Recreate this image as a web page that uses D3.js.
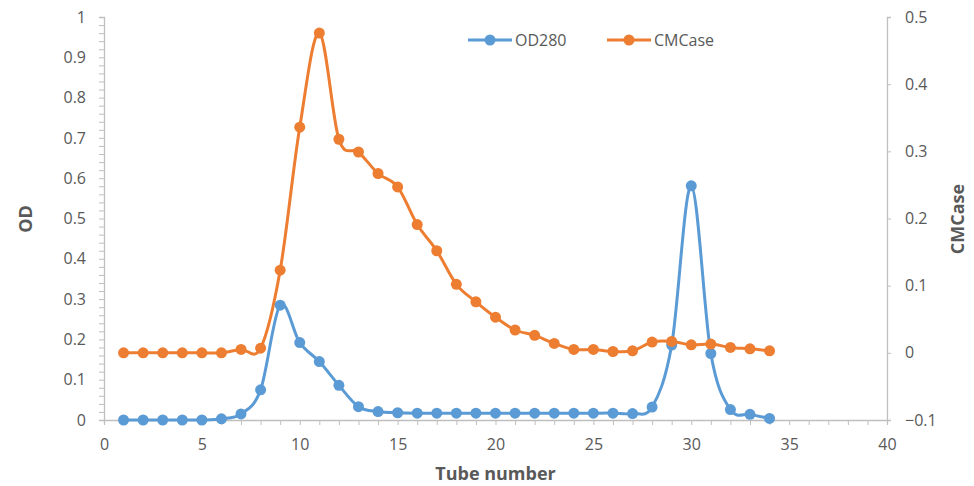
<!DOCTYPE html>
<html lang="en">
<head>
<meta charset="utf-8">
<script src="https://cdn.jsdelivr.net/npm/d3@7"></script>
<style>
  body { margin: 0; background: #fff; }
  svg text { font-family: "Open Sans", "Liberation Sans", sans-serif; fill: #595959; }
</style>
</head>
<body>
<svg id="chart"></svg>
<script>
var tubes = [1,2,3,4,5,6,7,8,9,10,11,12,13,14,15,16,17,18,19,20,21,22,23,24,25,26,27,28,29,30,31,32,33,34];
var od280 = [0,0,0,0,0,0.003,0.015,0.075,0.285,0.192,0.145,0.086,0.033,0.021,0.018,0.017,0.017,0.017,0.017,0.017,0.017,0.017,0.017,0.017,0.017,0.017,0.016,0.032,0.186,0.581,0.165,0.026,0.014,0.004];
var cmcase = [0,0,0,0,0,0,0.005,0.007,0.123,0.336,0.476,0.318,0.299,0.267,0.247,0.191,0.152,0.102,0.076,0.053,0.034,0.026,0.014,0.005,0.005,0.002,0.003,0.016,0.017,0.012,0.013,0.008,0.006,0.003];
var xTicks = [0,5,10,15,20,25,30,35,40];
var leftTicks = [0,0.1,0.2,0.3,0.4,0.5,0.6,0.7,0.8,0.9,1];
var rightTicks = [-0.1,0,0.1,0.2,0.3,0.4,0.5];

var w = 974, h = 486;
var padLeft = 104, padRight = 887, padTop = 17, padBottom = 420;
var blue = "#5B9BD5", orange = "#ED7D31", axisColor = "#BFBFBF";

var svg = d3.select("#chart").attr("width", w).attr("height", h);

var x = d3.scaleLinear().domain([0, 40]).range([padLeft, padRight]);
var yL = d3.scaleLinear().domain([0, 1]).range([padBottom, padTop]);
var yR = d3.scaleLinear().domain([-0.1, 0.5]).range([padBottom, padTop]);

// bottom axis
var xAxis = svg.append("g")
  .attr("transform", "translate(0," + padBottom + ")")
  .call(d3.axisBottom(x).tickValues(d3.range(0, 41, 1)).tickSize(5).tickFormat(""));
var xLab = svg.append("g")
  .attr("transform", "translate(0," + padBottom + ")")
  .call(d3.axisBottom(x).tickValues(xTicks).tickSize(0).tickPadding(19).tickFormat(d3.format("d")));

// left axis
var yAxisL = svg.append("g")
  .attr("transform", "translate(" + padLeft + ",0)")
  .call(d3.axisLeft(yL).tickValues(d3.range(0, 51, 1).map(function(i){ return i / 50; })).tickSize(5).tickFormat(""));
var yLabL = svg.append("g")
  .attr("transform", "translate(" + padLeft + ",0)")
  .call(d3.axisLeft(yL).tickValues(leftTicks).tickSize(0).tickPadding(18).tickFormat(function(d){ return d === 0 || d === 1 ? d : d3.format(".1f")(d); }));

// right axis
var yAxisR = svg.append("g")
  .attr("transform", "translate(" + padRight + ",0)")
  .call(d3.axisRight(yR).tickValues(rightTicks).tickSize(4).tickPadding(14).tickFormat(function(d){ return Math.abs(d) < 1e-9 ? "0" : d3.format(".1f")(d); }));

[xAxis, xLab, yAxisL, yLabL, yAxisR].forEach(function(g){
  g.select(".domain").attr("stroke", axisColor).attr("stroke-width", 1.3);
  g.selectAll(".tick line").attr("stroke", axisColor).attr("stroke-width", 1);
  g.selectAll(".tick text").attr("font-size", 16).attr("fill", "#595959")
    .style("font-family", "'Open Sans', sans-serif");
});
xLab.select(".domain").remove();
yLabL.select(".domain").remove();

// series
var series = [
  { name: "OD280", values: od280, y: yL, color: blue },
  { name: "CMCase", values: cmcase, y: yR, color: orange }
];

series.forEach(function(s) {
  var line = d3.line()
    .x(function(d, i){ return x(tubes[i]); })
    .y(function(d){ return s.y(d); })
    .curve(d3.curveCardinal.tension(0));
  svg.append("path")
    .datum(s.values)
    .attr("fill", "none")
    .attr("stroke", s.color)
    .attr("stroke-width", 3)
    .attr("d", line);
});

series.forEach(function(s) {
  svg.append("g").selectAll("circle")
    .data(s.values)
    .enter()
    .append("circle")
    .attr("cx", function(d, i){ return x(tubes[i]); })
    .attr("cy", function(d){ return s.y(d); })
    .attr("r", 5.5)
    .attr("fill", s.color);
});

// legend
var legendX = [468, 607];
series.forEach(function(s, i) {
  var g = svg.append("g").attr("transform", "translate(" + legendX[i] + ",40)");
  g.append("line").attr("x1", 0).attr("x2", 44).attr("stroke", s.color).attr("stroke-width", 3);
  g.append("circle").attr("cx", 22).attr("r", 5.5).attr("fill", s.color);
  g.append("text").attr("x", 47).attr("dy", "0.35em").attr("font-size", 16).text(s.name);
});

// axis titles
svg.append("text")
  .attr("transform", "translate(" + ((padLeft + padRight) / 2) + ",480)")
  .attr("text-anchor", "middle")
  .attr("font-size", 18).attr("font-weight", "bold")
  .text("Tube number");

svg.append("text")
  .attr("transform", "translate(32,219) rotate(-90)")
  .attr("text-anchor", "middle")
  .attr("font-size", 18).attr("font-weight", "bold")
  .text("OD");

svg.append("text")
  .attr("transform", "translate(964,219) rotate(-90)")
  .attr("text-anchor", "middle")
  .attr("font-size", 18).attr("font-weight", "bold")
  .text("CMCase");
</script>
</body>
</html>
